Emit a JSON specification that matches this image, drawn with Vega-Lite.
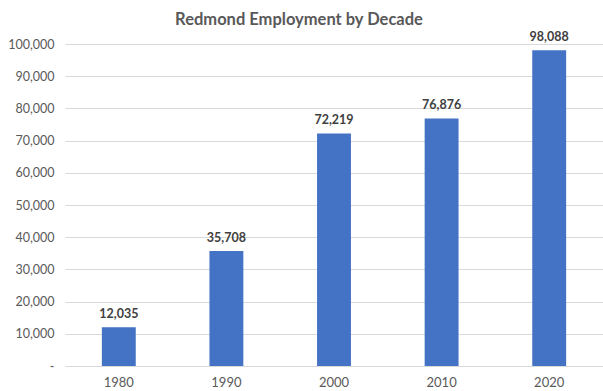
{
  "$schema": "https://vega.github.io/schema/vega-lite/v6.json",
  "autosize": "none",
  "width": 538,
  "height": 322,
  "padding": {"left": 65, "top": 44, "right": 0, "bottom": 25},
  "background": "white",
  "title": {
    "text": "Redmond Employment by Decade",
    "font": "Lato",
    "fontSize": 16.5,
    "fontWeight": "bold",
    "color": "#595959",
    "anchor": "middle",
    "frame": "group",
    "dx": -35,
    "baseline": "top",
    "offset": 0,
    "dy": -3
  },
  "data": {
    "values": [
      {"decade": "1980", "employment": 12035},
      {"decade": "1990", "employment": 35708},
      {"decade": "2000", "employment": 72219},
      {"decade": "2010", "employment": 76876},
      {"decade": "2020", "employment": 98088}
    ]
  },
  "config": {
    "view": {"stroke": null},
    "axis": {"labelFont": "Lato", "labelFontSize": 12, "labelColor": "#595959"}
  },
  "encoding": {
    "x": {
      "field": "decade",
      "type": "ordinal",
      "title": null,
      "scale": {"paddingInner": 0.685, "paddingOuter": 0.3425},
      "axis": {"labelAngle": 0, "ticks": false, "domainColor": "#d9d9d9", "labelPadding": 10, "labelFontSize": 13}
    },
    "y": {
      "field": "employment",
      "type": "quantitative",
      "title": null,
      "scale": {"domain": [0, 100000], "nice": false},
      "axis": {
        "values": [0, 10000, 20000, 30000, 40000, 50000, 60000, 70000, 80000, 90000, 100000],
        "labelExpr": "datum.value == 0 ? '-' : format(datum.value, ',')",
        "domain": false,
        "ticks": false,
        "gridColor": "#d9d9d9",
        "labelPadding": 11,
        "labelFontSize": 12.5
      }
    }
  },
  "layer": [
    {"mark": {"type": "bar", "color": "#4472C4"}},
    {
      "mark": {"type": "text", "dy": -9, "baseline": "alphabetic", "font": "Lato", "fontSize": 12.5, "fontWeight": "bold", "color": "#404040"},
      "encoding": {"text": {"field": "employment", "type": "quantitative", "format": ","}}
    }
  ]
}
